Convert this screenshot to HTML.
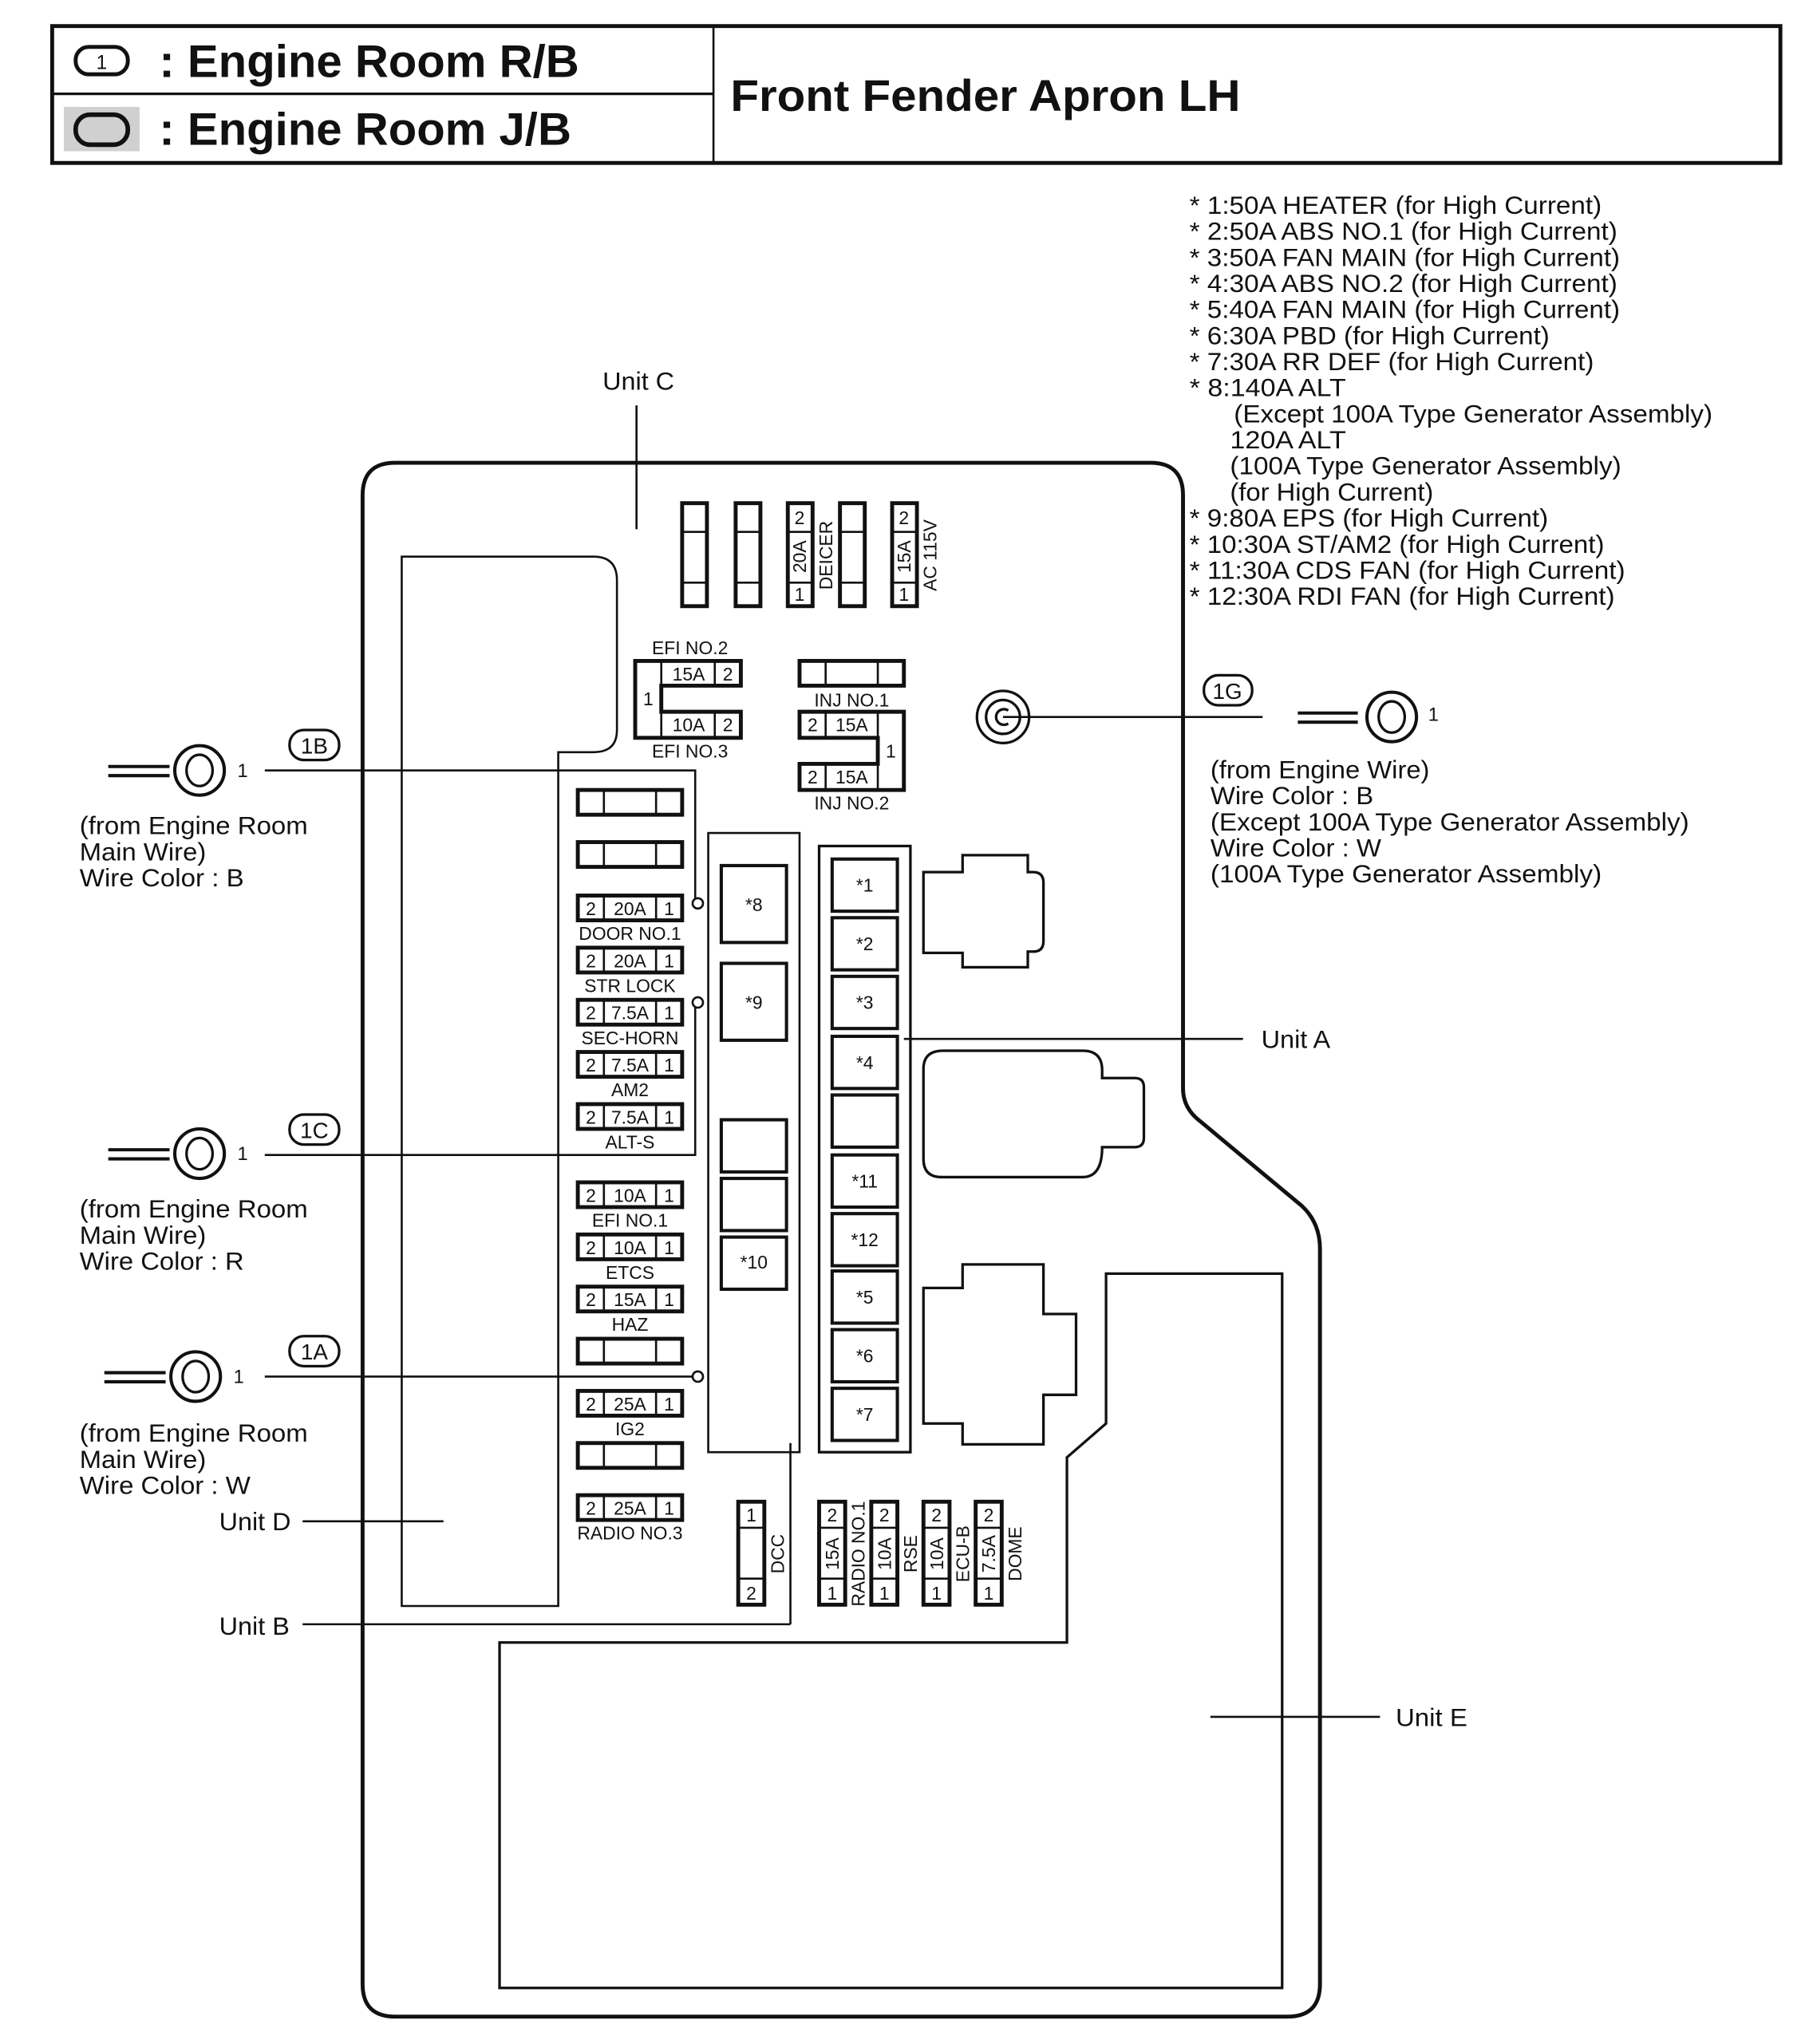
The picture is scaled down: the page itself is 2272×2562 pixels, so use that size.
<!DOCTYPE html>
<html><head><meta charset="utf-8"><style>
html,body{margin:0;padding:0;background:#fff}
svg{display:block}
text{font-family:"Liberation Sans",Arial,sans-serif;fill:#111}
.t{stroke:#111;stroke-width:1.6;fill:none}
.f{stroke:#111;stroke-width:3;fill:#fff}
.d{stroke:#111;stroke-width:1.6}
.s{font-size:14px;text-anchor:middle}
.n{font-size:19.5px}
.m{font-size:14.5px}
</style></head><body>
<svg width="2272" height="2562" viewBox="0 0 1390 1568" preserveAspectRatio="none" xmlns="http://www.w3.org/2000/svg">
<!-- header -->
<rect x="40" y="20" width="1325" height="105" fill="none" stroke="#111" stroke-width="3"/>
<line x1="547" y1="20" x2="547" y2="125" class="t"/>
<line x1="40" y1="72" x2="547" y2="72" class="t" style="stroke-width:2"/>
<rect x="49" y="82" width="58" height="34" fill="#d0d0d0"/>
<rect x="58" y="36" width="40" height="21" rx="10" fill="none" stroke="#111" stroke-width="3"/>
<text x="78" y="53" font-size="15" text-anchor="middle">1</text>
<rect x="58" y="88" width="40" height="23" rx="11" fill="none" stroke="#111" stroke-width="3.5"/>
<text x="122" y="59" font-size="35" font-weight="bold" textLength="322" lengthAdjust="spacingAndGlyphs">: Engine Room R/B</text>
<text x="122" y="111" font-size="35" font-weight="bold" textLength="316" lengthAdjust="spacingAndGlyphs">: Engine Room J/B</text>
<text x="560" y="85" font-size="34" font-weight="bold" textLength="391" lengthAdjust="spacingAndGlyphs">Front Fender Apron LH</text>

<!-- notes -->
<g class="n">
<text x="912" y="164" textLength="316" lengthAdjust="spacingAndGlyphs">* 1:50A HEATER (for High Current)</text>
<text x="912" y="184" textLength="328" lengthAdjust="spacingAndGlyphs">* 2:50A ABS NO.1 (for High Current)</text>
<text x="912" y="204" textLength="330" lengthAdjust="spacingAndGlyphs">* 3:50A FAN MAIN (for High Current)</text>
<text x="912" y="224" textLength="328" lengthAdjust="spacingAndGlyphs">* 4:30A ABS NO.2 (for High Current)</text>
<text x="912" y="244" textLength="330" lengthAdjust="spacingAndGlyphs">* 5:40A FAN MAIN (for High Current)</text>
<text x="912" y="264" textLength="276" lengthAdjust="spacingAndGlyphs">* 6:30A PBD (for High Current)</text>
<text x="912" y="284" textLength="310" lengthAdjust="spacingAndGlyphs">* 7:30A RR DEF (for High Current)</text>
<text x="912" y="304" textLength="120" lengthAdjust="spacingAndGlyphs">* 8:140A ALT</text>
<text x="946" y="324" textLength="367" lengthAdjust="spacingAndGlyphs">(Except 100A Type Generator Assembly)</text>
<text x="943" y="344" textLength="89" lengthAdjust="spacingAndGlyphs">120A ALT</text>
<text x="943" y="364" textLength="300" lengthAdjust="spacingAndGlyphs">(100A Type Generator Assembly)</text>
<text x="943" y="384" textLength="156" lengthAdjust="spacingAndGlyphs">(for High Current)</text>
<text x="912" y="404" textLength="275" lengthAdjust="spacingAndGlyphs">* 9:80A EPS (for High Current)</text>
<text x="912" y="424" textLength="318" lengthAdjust="spacingAndGlyphs">* 10:30A ST/AM2 (for High Current)</text>
<text x="912" y="444" textLength="334" lengthAdjust="spacingAndGlyphs">* 11:30A CDS FAN (for High Current)</text>
<text x="912" y="464" textLength="326" lengthAdjust="spacingAndGlyphs">* 12:30A RDI FAN (for High Current)</text>
</g>

<!-- outer box -->
<path d="M303,355 H882 Q907,355 907,380 V835 Q907,850 920,860 L998,925 Q1012,938 1012,958 V1522 Q1012,1547 987,1547 H303 Q278,1547 278,1522 V380 Q278,355 303,355 Z" fill="none" stroke="#111" stroke-width="3"/>

<!-- Unit C -->
<text x="462" y="299" class="n" textLength="55" lengthAdjust="spacingAndGlyphs">Unit C</text>
<line x1="488" y1="311" x2="488" y2="406" class="t"/>

<!-- Unit D box -->
<path d="M308,427 H455 Q473,427 473,445 V560 Q473,577 455,577 H428 V1232 H308 Z" class="t"/>
<text x="168" y="1174" class="n" textLength="55" lengthAdjust="spacingAndGlyphs">Unit D</text>
<line x1="232" y1="1167" x2="340" y2="1167" class="t"/>

<!-- Unit B -->
<text x="168" y="1254" class="n" textLength="54" lengthAdjust="spacingAndGlyphs">Unit B</text>
<line x1="232" y1="1246" x2="606" y2="1246" class="t"/>
<line x1="606" y1="1107" x2="606" y2="1246" class="t"/>

<!-- top vertical fuses -->
<g>
<rect x="523" y="386" width="19" height="79" class="f"/><line x1="523" y1="408" x2="542" y2="408" class="d"/><line x1="523" y1="447" x2="542" y2="447" class="d"/>
<rect x="564" y="386" width="19" height="79" class="f"/><line x1="564" y1="408" x2="583" y2="408" class="d"/><line x1="564" y1="447" x2="583" y2="447" class="d"/>
<rect x="604" y="386" width="19" height="79" class="f"/><line x1="604" y1="408" x2="623" y2="408" class="d"/><line x1="604" y1="447" x2="623" y2="447" class="d"/>
<rect x="644" y="386" width="19" height="79" class="f"/><line x1="644" y1="408" x2="663" y2="408" class="d"/><line x1="644" y1="447" x2="663" y2="447" class="d"/>
<rect x="684" y="386" width="19" height="79" class="f"/><line x1="684" y1="408" x2="703" y2="408" class="d"/><line x1="684" y1="447" x2="703" y2="447" class="d"/>
<text x="613" y="402" class="s">2</text><text x="613" y="461" class="s">1</text>
<text transform="translate(618,427) rotate(-90)" class="s">20A</text>
<text transform="translate(638,426) rotate(-90)" class="s">DEICER</text>
<text x="693" y="402" class="s">2</text><text x="693" y="461" class="s">1</text>
<text transform="translate(698,427) rotate(-90)" class="s">15A</text>
<text transform="translate(718,426) rotate(-90)" class="s">AC 115V</text>
</g>

<!-- EFI NO.2/3 -->
<text x="529" y="502" class="s">EFI NO.2</text>
<path d="M487,507 H568 V526 H507 V546 H568 V566 H487 Z" class="f"/>
<line x1="507" y1="507" x2="507" y2="566" class="d"/>
<line x1="548" y1="507" x2="548" y2="526" class="d"/>
<line x1="548" y1="546" x2="548" y2="566" class="d"/>
<text x="528" y="522" class="s">15A</text><text x="558" y="522" class="s">2</text>
<text x="497" y="541" class="s">1</text>
<text x="528" y="561" class="s">10A</text><text x="558" y="561" class="s">2</text>
<text x="529" y="581" class="s">EFI NO.3</text>

<!-- INJ -->
<rect x="613" y="507" width="80" height="19" class="f"/>
<line x1="633" y1="507" x2="633" y2="526" class="d"/><line x1="673" y1="507" x2="673" y2="526" class="d"/>
<text x="653" y="542" class="s">INJ NO.1</text>
<path d="M613,546 H693 V606 H613 V586 H673 V566 H613 Z" class="f"/>
<line x1="633" y1="546" x2="633" y2="566" class="d"/><line x1="633" y1="586" x2="633" y2="606" class="d"/>
<line x1="673" y1="546" x2="673" y2="606" class="d"/>
<text x="623" y="561" class="s">2</text><text x="653" y="561" class="s">15A</text>
<text x="683" y="581" class="s">1</text>
<text x="623" y="601" class="s">2</text><text x="653" y="601" class="s">15A</text>
<text x="653" y="621" class="s">INJ NO.2</text>

<!-- ground 1G -->
<circle cx="769" cy="550" r="20" class="t" style="stroke-width:2"/>
<circle cx="769" cy="550" r="13" class="t" style="stroke-width:2"/>
<path d="M773,545 A6,6 0 1 0 773,555" class="t" style="stroke-width:2"/>
<line x1="769" y1="550" x2="968" y2="550" class="t"/>
<rect x="923" y="518" width="37" height="23" rx="11" class="t" style="stroke-width:2"/>
<text x="941" y="536" font-size="17" text-anchor="middle">1G</text>
<line x1="995" y1="547" x2="1041" y2="547" class="t" style="stroke-width:2.5"/>
<line x1="995" y1="554" x2="1041" y2="554" class="t" style="stroke-width:2.5"/>
<circle cx="1067" cy="550" r="19" fill="#fff" stroke="#111" stroke-width="2.5"/>
<ellipse cx="1067" cy="550" rx="10" ry="12" class="t" style="stroke-width:2"/>
<text x="1095" y="553" class="m">1</text>
<g class="n">
<text x="928" y="597" textLength="168" lengthAdjust="spacingAndGlyphs">(from Engine Wire)</text>
<text x="928" y="617" textLength="125" lengthAdjust="spacingAndGlyphs">Wire Color : B</text>
<text x="928" y="637" textLength="367" lengthAdjust="spacingAndGlyphs">(Except 100A Type Generator Assembly)</text>
<text x="928" y="657" textLength="131" lengthAdjust="spacingAndGlyphs">Wire Color : W</text>
<text x="928" y="677" textLength="300" lengthAdjust="spacingAndGlyphs">(100A Type Generator Assembly)</text>
</g>

<!-- left connectors -->
<g>
<line x1="83" y1="588" x2="130" y2="588" class="t" style="stroke-width:2.5"/>
<line x1="83" y1="595" x2="130" y2="595" class="t" style="stroke-width:2.5"/>
<circle cx="153" cy="591" r="19" fill="#fff" stroke="#111" stroke-width="2.5"/>
<ellipse cx="153" cy="591" rx="10" ry="12" class="t" style="stroke-width:2"/>
<text x="182" y="596" class="m">1</text>
<rect x="222" y="560" width="38" height="23" rx="11" class="t" style="stroke-width:2"/>
<text x="241" y="578" font-size="17" text-anchor="middle">1B</text>
<path d="M203,591 H533 V689" class="t"/>
<circle cx="535" cy="693" r="4" class="t"/>
<g class="n"><text x="61" y="640" textLength="175" lengthAdjust="spacingAndGlyphs">(from Engine Room</text><text x="61" y="660" textLength="97" lengthAdjust="spacingAndGlyphs">Main Wire)</text><text x="61" y="680" textLength="126" lengthAdjust="spacingAndGlyphs">Wire Color : B</text></g>

<line x1="83" y1="882" x2="130" y2="882" class="t" style="stroke-width:2.5"/>
<line x1="83" y1="889" x2="130" y2="889" class="t" style="stroke-width:2.5"/>
<circle cx="153" cy="885" r="19" fill="#fff" stroke="#111" stroke-width="2.5"/>
<ellipse cx="153" cy="885" rx="10" ry="12" class="t" style="stroke-width:2"/>
<text x="182" y="890" class="m">1</text>
<rect x="222" y="855" width="38" height="23" rx="11" class="t" style="stroke-width:2"/>
<text x="241" y="873" font-size="17" text-anchor="middle">1C</text>
<path d="M203,886 H533 V773" class="t"/>
<circle cx="535" cy="769" r="4" class="t"/>
<g class="n"><text x="61" y="934" textLength="175" lengthAdjust="spacingAndGlyphs">(from Engine Room</text><text x="61" y="954" textLength="97" lengthAdjust="spacingAndGlyphs">Main Wire)</text><text x="61" y="974" textLength="126" lengthAdjust="spacingAndGlyphs">Wire Color : R</text></g>

<line x1="80" y1="1053" x2="127" y2="1053" class="t" style="stroke-width:2.5"/>
<line x1="80" y1="1060" x2="127" y2="1060" class="t" style="stroke-width:2.5"/>
<circle cx="150" cy="1056" r="19" fill="#fff" stroke="#111" stroke-width="2.5"/>
<ellipse cx="150" cy="1056" rx="10" ry="12" class="t" style="stroke-width:2"/>
<text x="179" y="1061" class="m">1</text>
<rect x="222" y="1025" width="38" height="23" rx="11" class="t" style="stroke-width:2"/>
<text x="241" y="1043" font-size="17" text-anchor="middle">1A</text>
<line x1="203" y1="1056" x2="531" y2="1056" class="t"/>
<circle cx="535" cy="1056" r="4" class="t"/>
<g class="n"><text x="61" y="1106" textLength="175" lengthAdjust="spacingAndGlyphs">(from Engine Room</text><text x="61" y="1126" textLength="97" lengthAdjust="spacingAndGlyphs">Main Wire)</text><text x="61" y="1146" textLength="131" lengthAdjust="spacingAndGlyphs">Wire Color : W</text></g>
</g>

<!-- horizontal fuse column -->
<g>
<rect x="443" y="606" width="80" height="19" class="f"/><line x1="463" y1="606" x2="463" y2="625" class="d"/><line x1="503" y1="606" x2="503" y2="625" class="d"/>
<rect x="443" y="646" width="80" height="19" class="f"/><line x1="463" y1="646" x2="463" y2="665" class="d"/><line x1="503" y1="646" x2="503" y2="665" class="d"/>

<rect x="443" y="687" width="80" height="19" class="f"/><line x1="463" y1="687" x2="463" y2="706" class="d"/><line x1="503" y1="687" x2="503" y2="706" class="d"/>
<text x="453" y="702" class="s">2</text><text x="483" y="702" class="s">20A</text><text x="513" y="702" class="s">1</text><text x="483" y="721" class="s">DOOR NO.1</text>

<rect x="443" y="727" width="80" height="19" class="f"/><line x1="463" y1="727" x2="463" y2="746" class="d"/><line x1="503" y1="727" x2="503" y2="746" class="d"/>
<text x="453" y="742" class="s">2</text><text x="483" y="742" class="s">20A</text><text x="513" y="742" class="s">1</text><text x="483" y="761" class="s">STR LOCK</text>

<rect x="443" y="767" width="80" height="19" class="f"/><line x1="463" y1="767" x2="463" y2="786" class="d"/><line x1="503" y1="767" x2="503" y2="786" class="d"/>
<text x="453" y="782" class="s">2</text><text x="483" y="782" class="s">7.5A</text><text x="513" y="782" class="s">1</text><text x="483" y="801" class="s">SEC-HORN</text>

<rect x="443" y="807" width="80" height="19" class="f"/><line x1="463" y1="807" x2="463" y2="826" class="d"/><line x1="503" y1="807" x2="503" y2="826" class="d"/>
<text x="453" y="822" class="s">2</text><text x="483" y="822" class="s">7.5A</text><text x="513" y="822" class="s">1</text><text x="483" y="841" class="s">AM2</text>

<rect x="443" y="847" width="80" height="19" class="f"/><line x1="463" y1="847" x2="463" y2="866" class="d"/><line x1="503" y1="847" x2="503" y2="866" class="d"/>
<text x="453" y="862" class="s">2</text><text x="483" y="862" class="s">7.5A</text><text x="513" y="862" class="s">1</text><text x="483" y="881" class="s">ALT-S</text>

<rect x="443" y="907" width="80" height="19" class="f"/><line x1="463" y1="907" x2="463" y2="926" class="d"/><line x1="503" y1="907" x2="503" y2="926" class="d"/>
<text x="453" y="922" class="s">2</text><text x="483" y="922" class="s">10A</text><text x="513" y="922" class="s">1</text><text x="483" y="941" class="s">EFI NO.1</text>

<rect x="443" y="947" width="80" height="19" class="f"/><line x1="463" y1="947" x2="463" y2="966" class="d"/><line x1="503" y1="947" x2="503" y2="966" class="d"/>
<text x="453" y="962" class="s">2</text><text x="483" y="962" class="s">10A</text><text x="513" y="962" class="s">1</text><text x="483" y="981" class="s">ETCS</text>

<rect x="443" y="987" width="80" height="19" class="f"/><line x1="463" y1="987" x2="463" y2="1006" class="d"/><line x1="503" y1="987" x2="503" y2="1006" class="d"/>
<text x="453" y="1002" class="s">2</text><text x="483" y="1002" class="s">15A</text><text x="513" y="1002" class="s">1</text><text x="483" y="1021" class="s">HAZ</text>

<rect x="443" y="1027" width="80" height="19" class="f"/><line x1="463" y1="1027" x2="463" y2="1046" class="d"/><line x1="503" y1="1027" x2="503" y2="1046" class="d"/>

<rect x="443" y="1067" width="80" height="19" class="f"/><line x1="463" y1="1067" x2="463" y2="1086" class="d"/><line x1="503" y1="1067" x2="503" y2="1086" class="d"/>
<text x="453" y="1082" class="s">2</text><text x="483" y="1082" class="s">25A</text><text x="513" y="1082" class="s">1</text><text x="483" y="1101" class="s">IG2</text>

<rect x="443" y="1107" width="80" height="19" class="f"/><line x1="463" y1="1107" x2="463" y2="1126" class="d"/><line x1="503" y1="1107" x2="503" y2="1126" class="d"/>

<rect x="443" y="1147" width="80" height="19" class="f"/><line x1="463" y1="1147" x2="463" y2="1166" class="d"/><line x1="503" y1="1147" x2="503" y2="1166" class="d"/>
<text x="453" y="1162" class="s">2</text><text x="483" y="1162" class="s">25A</text><text x="513" y="1162" class="s">1</text><text x="483" y="1181" class="s">RADIO NO.3</text>
</g>

<!-- relay column -->
<rect x="543" y="639" width="70" height="475" class="t"/>
<g style="stroke:#111;stroke-width:2.5;fill:#fff">
<rect x="553" y="664" width="50" height="59"/>
<rect x="553" y="739" width="50" height="59"/>
<rect x="553" y="859" width="50" height="40"/>
<rect x="553" y="904" width="50" height="40"/>
<rect x="553" y="949" width="50" height="40"/>
</g>
<text x="578" y="699" class="s">*8</text>
<text x="578" y="774" class="s">*9</text>
<text x="578" y="973" class="s">*10</text>

<!-- Unit A -->
<rect x="628" y="649" width="70" height="465" class="t" style="stroke-width:2"/>
<g style="stroke:#111;stroke-width:2.5;fill:#fff">
<rect x="638" y="659" width="50" height="40"/>
<rect x="638" y="704" width="50" height="40"/>
<rect x="638" y="749" width="50" height="40"/>
<rect x="638" y="795" width="50" height="40"/>
<rect x="638" y="840" width="50" height="40"/>
<rect x="638" y="886" width="50" height="40"/>
<rect x="638" y="931" width="50" height="40"/>
<rect x="638" y="975" width="50" height="40"/>
<rect x="638" y="1020" width="50" height="40"/>
<rect x="638" y="1065" width="50" height="40"/>
</g>
<text x="663" y="684" class="s">*1</text>
<text x="663" y="729" class="s">*2</text>
<text x="663" y="774" class="s">*3</text>
<text x="663" y="820" class="s">*4</text>
<text x="663" y="911" class="s">*11</text>
<text x="663" y="956" class="s">*12</text>
<text x="663" y="1000" class="s">*5</text>
<text x="663" y="1045" class="s">*6</text>
<text x="663" y="1090" class="s">*7</text>
<line x1="693" y1="797" x2="953" y2="797" class="t"/>
<text x="967" y="804" class="n" textLength="53" lengthAdjust="spacingAndGlyphs">Unit A</text>

<!-- connector shapes -->
<path d="M708,669 H738 V656 H788 V669 H792 Q800,669 800,677 V722 Q800,730 792,730 H788 V742 H738 V731 H708 Z" class="t" style="stroke-width:2"/>
<path d="M723,806 H830 Q845,806 845,821 V827 H870 Q877,827 877,834 V873 Q877,880 870,880 H845 Q845,903 830,903 H722 Q708,903 708,889 V820 Q708,806 723,806 Z" class="t" style="stroke-width:2"/>
<path d="M738,970 H800 V1008 H825 V1070 H800 V1108 H738 V1092 H708 V988 H738 Z" class="t" style="stroke-width:2"/>

<!-- Unit E -->
<path d="M848,977 H983 V1525 H383 V1260 H818 V1118 L848,1092 Z" class="t" style="stroke-width:2"/>
<line x1="928" y1="1317" x2="1058" y2="1317" class="t"/>
<text x="1070" y="1324" class="n" textLength="55" lengthAdjust="spacingAndGlyphs">Unit E</text>

<!-- bottom vertical fuses -->
<g>
<rect x="566" y="1152" width="20" height="79" class="f"/><line x1="566" y1="1172" x2="586" y2="1172" class="d"/><line x1="566" y1="1211" x2="586" y2="1211" class="d"/>
<text x="576" y="1167" class="s">1</text><text x="576" y="1227" class="s">2</text>
<text transform="translate(601,1192) rotate(-90)" class="s">DCC</text>

<rect x="628" y="1152" width="20" height="79" class="f"/><line x1="628" y1="1172" x2="648" y2="1172" class="d"/><line x1="628" y1="1211" x2="648" y2="1211" class="d"/>
<text x="638" y="1167" class="s">2</text><text x="638" y="1227" class="s">1</text>
<text transform="translate(643,1192) rotate(-90)" class="s">15A</text>
<text transform="translate(663,1192) rotate(-90)" class="s">RADIO NO.1</text>

<rect x="668" y="1152" width="20" height="79" class="f"/><line x1="668" y1="1172" x2="688" y2="1172" class="d"/><line x1="668" y1="1211" x2="688" y2="1211" class="d"/>
<text x="678" y="1167" class="s">2</text><text x="678" y="1227" class="s">1</text>
<text transform="translate(683,1192) rotate(-90)" class="s">10A</text>
<text transform="translate(703,1192) rotate(-90)" class="s">RSE</text>

<rect x="708" y="1152" width="20" height="79" class="f"/><line x1="708" y1="1172" x2="728" y2="1172" class="d"/><line x1="708" y1="1211" x2="728" y2="1211" class="d"/>
<text x="718" y="1167" class="s">2</text><text x="718" y="1227" class="s">1</text>
<text transform="translate(723,1192) rotate(-90)" class="s">10A</text>
<text transform="translate(743,1192) rotate(-90)" class="s">ECU-B</text>

<rect x="748" y="1152" width="20" height="79" class="f"/><line x1="748" y1="1172" x2="768" y2="1172" class="d"/><line x1="748" y1="1211" x2="768" y2="1211" class="d"/>
<text x="758" y="1167" class="s">2</text><text x="758" y="1227" class="s">1</text>
<text transform="translate(763,1192) rotate(-90)" class="s">7.5A</text>
<text transform="translate(783,1192) rotate(-90)" class="s">DOME</text>
</g>
</svg>
</body></html>
